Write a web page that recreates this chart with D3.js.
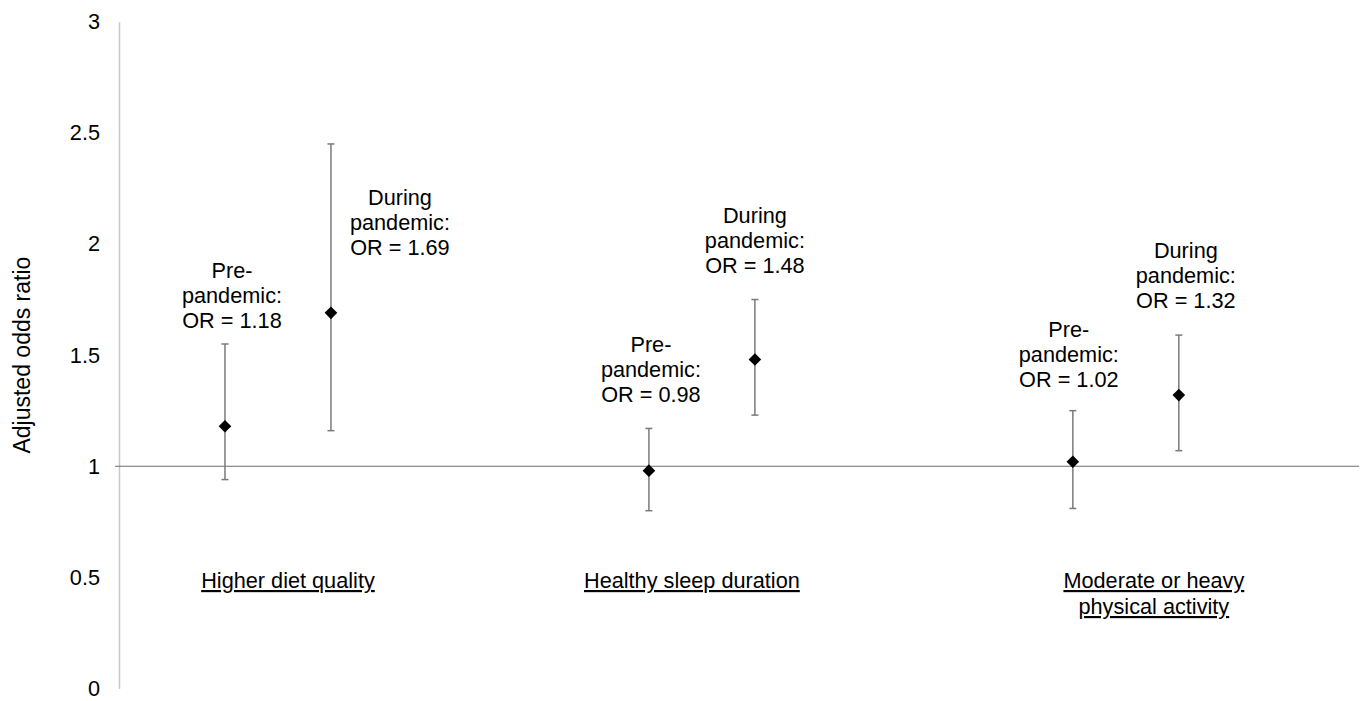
<!DOCTYPE html>
<html>
<head>
<meta charset="utf-8">
<script src="https://cdn.jsdelivr.net/npm/d3@7"></script>
<style>
  body { margin: 0; background: #fff; }
  text { font-family: "Liberation Sans", Arial, sans-serif; fill: #000; }
</style>
</head>
<body>
<div id="chart"></div>
<script>
// Data
var categories = [["Higher diet quality"], ["Healthy sleep duration"], ["Moderate or heavy", "physical activity"]];
var periods = ["Pre-pandemic", "During pandemic"];
var orPre = [1.18, 0.98, 1.02];
var lowPre = [0.94, 0.80, 0.81];
var highPre = [1.55, 1.17, 1.25];
var orDuring = [1.69, 1.48, 1.32];
var lowDuring = [1.16, 1.23, 1.07];
var highDuring = [2.45, 1.75, 1.59];
var yTicks = [0, 0.5, 1, 1.5, 2, 2.5, 3];

// Label nudges in px (hand placed in the original)
var labelNudge = [[7, -16], [69, 111], [2, -26], [0, -27], [-4, -24], [7, -27]];
var catNudge = [10, -10, 28];

var width = 1362, height = 701;
var fontSize = 21.7, lineGap = 25;

var svg = d3.select("#chart").append("svg")
  .attr("width", width)
  .attr("height", height);

// x: category slots like an Excel axis, pre at 1,2 ; 5,6 ; 9,10
var x = d3.scaleLinear().domain([0, 11.7]).range([119, 1359]);
var y = d3.scaleLinear().domain([0, 3]).range([688.5, 21.7]);

// build point list
var points = [];
categories.forEach(function(c, i) {
  points.push({cat: i, period: 0, or: orPre[i], lo: lowPre[i], hi: highPre[i], slot: i * 4 + 1});
  points.push({cat: i, period: 1, or: orDuring[i], lo: lowDuring[i], hi: highDuring[i], slot: i * 4 + 2});
});

// y axis
var yAxis = d3.axisLeft(y)
  .tickValues(yTicks)
  .tickFormat(d3.format("~g"))
  .tickSize(0)
  .tickPadding(19);

var gy = svg.append("g")
  .attr("transform", "translate(" + x(0) + ",0)")
  .call(yAxis);
gy.select(".domain").attr("stroke", "#c8c8c8").attr("stroke-width", 1.5);
gy.selectAll("text")
  .style("font-family", "Liberation Sans, Arial, sans-serif")
  .style("font-size", fontSize + "px")
  .attr("fill", "#000");

// y title
svg.append("text")
  .attr("transform", "translate(30," + ((y(0) + y(3)) / 2) + ") rotate(-90)")
  .attr("text-anchor", "middle")
  .style("font-size", "23px")
  .text("Adjusted odds ratio");

// reference line at OR = 1
svg.append("line")
  .attr("x1", x(0) - 4)
  .attr("x2", x.range()[1])
  .attr("y1", y(1))
  .attr("y2", y(1))
  .attr("stroke", "#6e6e6e")
  .attr("stroke-width", 1.2);

// error bars
var bars = svg.append("g").attr("class", "bars")
  .selectAll("g")
  .data(points)
  .enter().append("g")
  .attr("stroke", "#7a7a7a")
  .attr("stroke-width", 1.5);

bars.append("line")
  .attr("x1", function(d) { return x(d.slot); })
  .attr("x2", function(d) { return x(d.slot); })
  .attr("y1", function(d) { return y(d.lo); })
  .attr("y2", function(d) { return y(d.hi); });

bars.append("line")
  .attr("x1", function(d) { return x(d.slot) - 3.5; })
  .attr("x2", function(d) { return x(d.slot) + 3.5; })
  .attr("y1", function(d) { return y(d.hi); })
  .attr("y2", function(d) { return y(d.hi); });

bars.append("line")
  .attr("x1", function(d) { return x(d.slot) - 3.5; })
  .attr("x2", function(d) { return x(d.slot) + 3.5; })
  .attr("y1", function(d) { return y(d.lo); })
  .attr("y2", function(d) { return y(d.lo); });

// diamonds
svg.selectAll(".pin")
  .data(points)
  .enter().append("path")
  .attr("class", "pin")
  .attr("d", d3.symbol().type(d3.symbolSquare).size(80)())
  .attr("fill", "#000")
  .attr("transform", function(d) {
    return "translate(" + x(d.slot) + "," + y(d.or) + ") rotate(45)";
  });

// OR labels
points.forEach(function(d, i) {
  var lines = d.period == 0
    ? ["Pre-", "pandemic:", "OR = " + d3.format(".2f")(d.or)]
    : ["During", "pandemic:", "OR = " + d3.format(".2f")(d.or)];
  var cx = x(d.slot) + labelNudge[i][0];
  var lastY = y(d.hi) + labelNudge[i][1];
  var t = svg.append("text")
    .attr("text-anchor", "middle")
    .style("font-size", fontSize + "px");
  lines.forEach(function(l, j) {
    t.append("tspan")
      .attr("x", cx)
      .attr("y", lastY - (lines.length - 1 - j) * lineGap)
      .text(l);
  });
});

// category labels (underlined)
categories.forEach(function(c, i) {
  var cx = (x(i * 4 + 1) + x(i * 4 + 2)) / 2 + catNudge[i];
  var t = svg.append("text")
    .attr("text-anchor", "middle")
    .style("font-size", fontSize + "px")
    .style("text-decoration", "underline");
  c.forEach(function(l, j) {
    t.append("tspan")
      .attr("x", cx)
      .attr("y", 588 + j * 26)
      .text(l);
  });
});
</script>
</body>
</html>
